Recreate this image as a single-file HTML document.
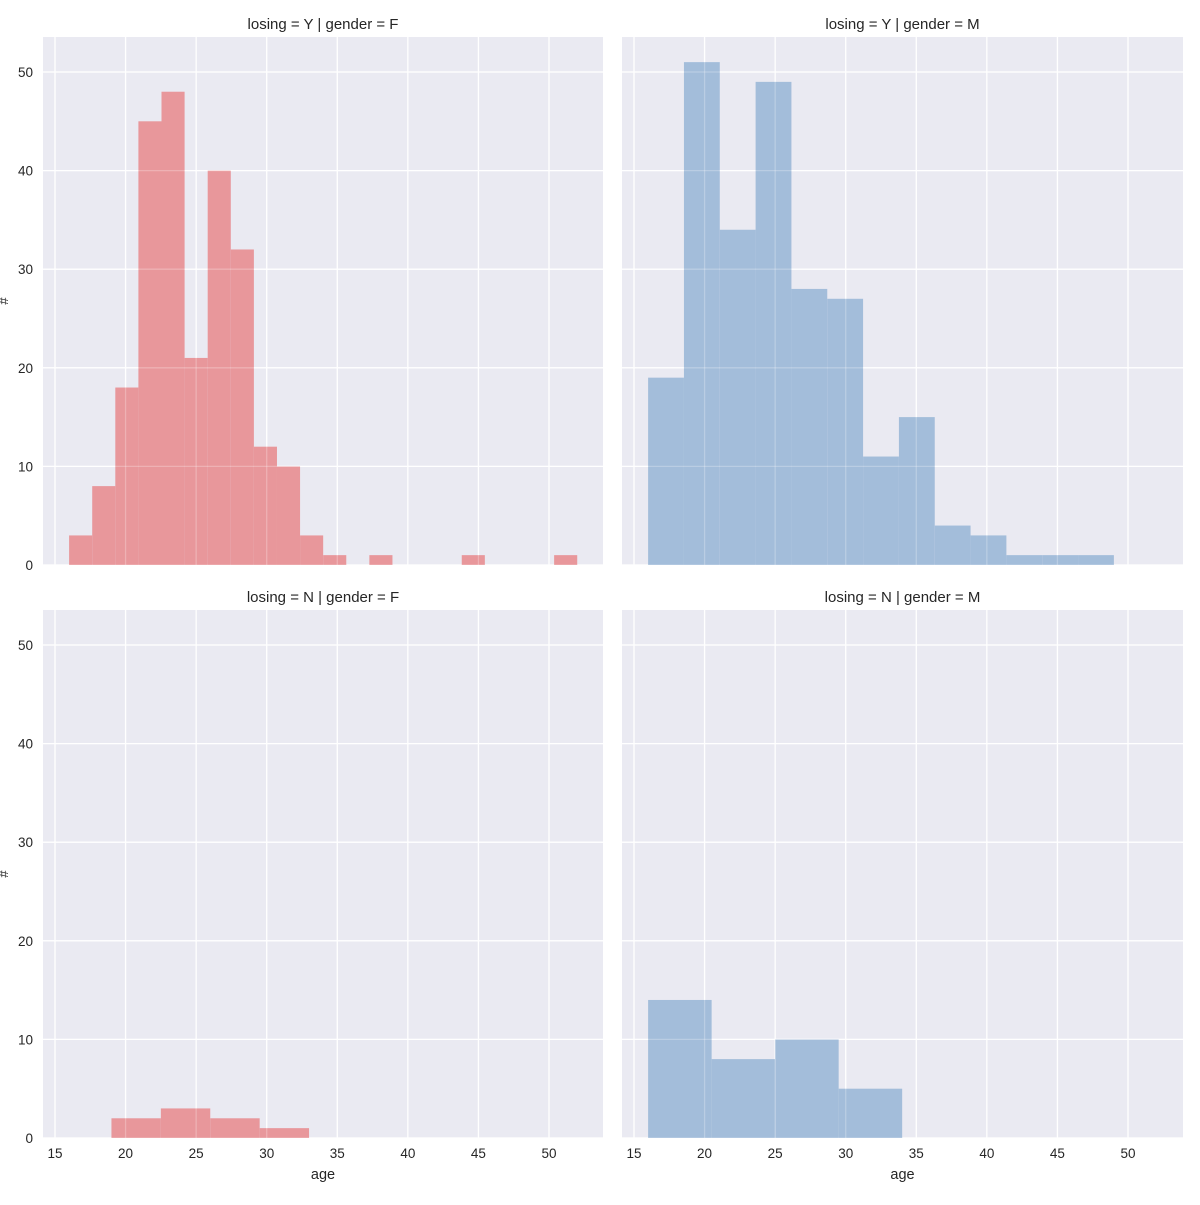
<!DOCTYPE html>
<html><head><meta charset="utf-8">
<style>
body{margin:0;background:#fff;width:1200px;height:1200px;overflow:hidden}
svg text{font-family:"Liberation Sans","DejaVu Sans",sans-serif;fill:#262626}
</style></head>
<body>
<svg id="chart" width="1200" height="1200" viewBox="0 0 1200 1200" xmlns="http://www.w3.org/2000/svg"></svg>
<script>
const xTicks = [15, 20, 25, 30, 35, 40, 45, 50];
const yTicks = [0, 10, 20, 30, 40, 50];
const titles = ["losing = Y | gender = F", "losing = Y | gender = M", "losing = N | gender = F", "losing = N | gender = M"];
const edgesYF = [16, 52];
const countsYF = [3, 8, 18, 45, 48, 21, 40, 32, 12, 10, 3, 1, 0, 1, 0, 0, 0, 1, 0, 0, 0, 1];
const edgesYM = [16, 49];
const countsYM = [19, 51, 34, 49, 28, 27, 11, 15, 4, 3, 1, 1, 1];
const edgesNF = [19, 33];
const countsNF = [2, 3, 2, 1];
const edgesNM = [16, 34];
const countsNM = [14, 8, 10, 5];

const NS = "http://www.w3.org/2000/svg";
const svg = document.getElementById("chart");
function el(tag, attrs, parent) {
  const e = document.createElementNS(NS, tag);
  for (const k in attrs) e.setAttribute(k, attrs[k]);
  (parent || svg).appendChild(e);
  return e;
}
const panels = [
  {x0: 43, x1: 603, y0: 37, y1: 565, edges: edgesYF, counts: countsYF, color: "#e8979b", title: titles[0], left: true, bottom: false},
  {x0: 622, x1: 1183, y0: 37, y1: 565, edges: edgesYM, counts: countsYM, color: "#a3bdda", title: titles[1], left: false, bottom: false},
  {x0: 43, x1: 603, y0: 610, y1: 1138, edges: edgesNF, counts: countsNF, color: "#e8979b", title: titles[2], left: true, bottom: true},
  {x0: 622, x1: 1183, y0: 610, y1: 1138, edges: edgesNM, counts: countsNM, color: "#a3bdda", title: titles[3], left: false, bottom: true}
];
panels.forEach((p, pi) => {
  const g = el("g", {});
  
  
  const xOff = p.x0 - 43;
  const sx = v => 55 + xOff + (v - 15) * (494 / 35);
  const sy = v => p.y1 - v * (493 / 50);
  const bg = el("rect", {x: p.x0, y: p.y0, width: p.x1 - p.x0, height: p.y1 - p.y0, fill: "#eaeaf2"}, g);
  
  
  const grid = (over) => {
    xTicks.forEach(t => {
      const l = el("line", {x1: sx(t), x2: sx(t), y1: p.y0, y2: p.y1, stroke: "#fff", "stroke-width": 1.3, "stroke-opacity": over ? 0.25 : 1}, g);
      
      
    });
    yTicks.forEach(t => {
      const l = el("line", {x1: p.x0, x2: p.x1, y1: sy(t), y2: sy(t), stroke: "#fff", "stroke-width": 1.3, "stroke-opacity": over ? 0.25 : 1}, g);
      
      
    });
  };
  grid(false);
  const n = p.counts.length;
  const w = (p.edges[1] - p.edges[0]) / n;
  p.counts.forEach((c, i) => {
    if (c <= 0) return;
    const a = p.edges[0] + i * w;
    const r = el("rect", {x: sx(a), y: sy(c), width: sx(a + w) - sx(a), height: sy(0) - sy(c), fill: p.color}, g);
    
    
  });
  grid(true);
  const t = el("text", {x: (p.x0 + p.x1) / 2, y: p.y0 - 8, "text-anchor": "middle", "font-size": 15}, g);
  t.textContent = p.title;
  
  
  if (p.left) {
    yTicks.forEach(v => {
      const tl = el("text", {x: 33, y: sy(v) + 5, "text-anchor": "end", "font-size": 13.5}, g);
      tl.textContent = v;
      
      
    });
    const yl = el("text", {x: 8, y: (p.y0 + p.y1) / 2, "text-anchor": "middle", "font-size": 13, transform: "rotate(-90 8 " + (p.y0 + p.y1) / 2 + ")"}, g);
    yl.textContent = "#";
    
    
  }
  if (p.bottom) {
    xTicks.forEach(v => {
      const tl = el("text", {x: sx(v), y: p.y1 + 20, "text-anchor": "middle", "font-size": 13.5}, g);
      tl.textContent = v;
      
      
    });
    const xl = el("text", {x: (p.x0 + p.x1) / 2, y: p.y1 + 41, "text-anchor": "middle", "font-size": 14.5}, g);
    xl.textContent = "age";
    
    
  }
});
</script>
</body></html>
